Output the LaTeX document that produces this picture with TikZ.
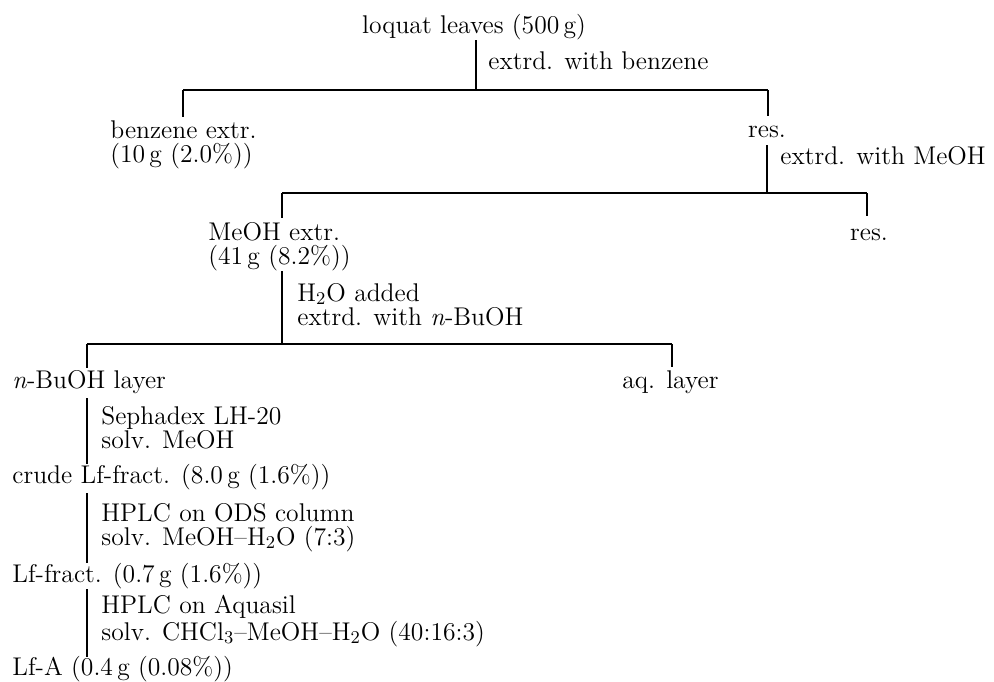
\documentclass[tikz,border=0pt]{standalone}
\usepackage{tikz}
\usetikzlibrary{positioning}

\begin{document}
\begin{tikzpicture}[
      x=0.5pt, y=-0.5pt,
      every node/.style={inner sep=0pt, font=\fontsize{12.8}{12}\selectfont},
      txt/.style={anchor=base west, align=left},
      mid/.style={anchor=base},
      rel/.style={line width=0.9pt}
    ]
    \useasboundingbox (0,0) rectangle (994,681);

    \node[mid] (leaves) at (474,33) {loquat leaves (500\,g)};
    \node[txt] (step1) at (488,69) {extrd. with benzene};
    \node[txt] (benz) at (110,162) {benzene extr.\\(10\,g (2.0\%))};
    \node[mid] (res1) at (767,137) {res.};
    \node[txt] (step2) at (780,164) {extrd. with MeOH};
    \node[txt] (meoh) at (208,264) {MeOH extr.\\(41\,g (8.2\%))};
    \node[mid] (res2) at (869,240) {res.};
    \node[txt] (step3) at (297,325) {H$_2$O added\\extrd. with \textit{n}-BuOH};
    \node[txt] (buoh) at (12,388) {\textit{n}-BuOH layer};
    \node[txt] (aq) at (622,388) {aq. layer};
    \node[txt] (step4) at (101,448) {Sephadex LH-20\\solv. MeOH};
    \node[txt] (crude) at (12,483) {crude Lf-fract. (8.0\,g (1.6\%))};
    \node[txt] (step5) at (101,545) {HPLC on ODS column\\solv. MeOH--H$_2$O (7:3)};
    \node[txt] (lff) at (12,582) {Lf-fract. (0.7\,g (1.6\%))};
    \node[txt] (step6) at (101,640) {HPLC on Aquasil\\solv. CHCl$_3$--MeOH--H$_2$O (40:16:3)};
    \node[txt] (lfa) at (12,675) {Lf-A (0.4\,g (0.08\%))};

    \coordinate (b1l) at (183,90);
    \coordinate (b1m) at (476,90);
    \coordinate (b1r) at (768,90);
    \coordinate (b2l) at (282,193);
    \coordinate (b2m) at (767,193);
    \coordinate (b2r) at (867,193);
    \coordinate (b3l) at (87,344);
    \coordinate (b3m) at (282,344);
    \coordinate (b3r) at (672,344);

    \draw[rel] (b1m |- 0,40) -- (b1m);
    \draw[rel] (b1l) -- (b1r);
    \draw[rel] (b1l) -- (183,117);
    \draw[rel] (b1r) -- (768,116);
    \draw[rel] (b2m |- 0,145) -- (b2m);
    \draw[rel] (b2l) -- (b2r);
    \draw[rel] (b2l) -- (282,218);
    \draw[rel] (b2r) -- (867,216);
    \draw[rel] (b3m |- 0,271) -- (b3m);
    \draw[rel] (b3l) -- (b3r);
    \draw[rel] (b3l) -- (87,368);
    \draw[rel] (b3r) -- (672,367);
    \draw[rel] (87,398) -- (87,464);
    \draw[rel] (87,493) -- (87,563);
    \draw[rel] (87,589) -- (87,657);
\end{tikzpicture}
\end{document}
